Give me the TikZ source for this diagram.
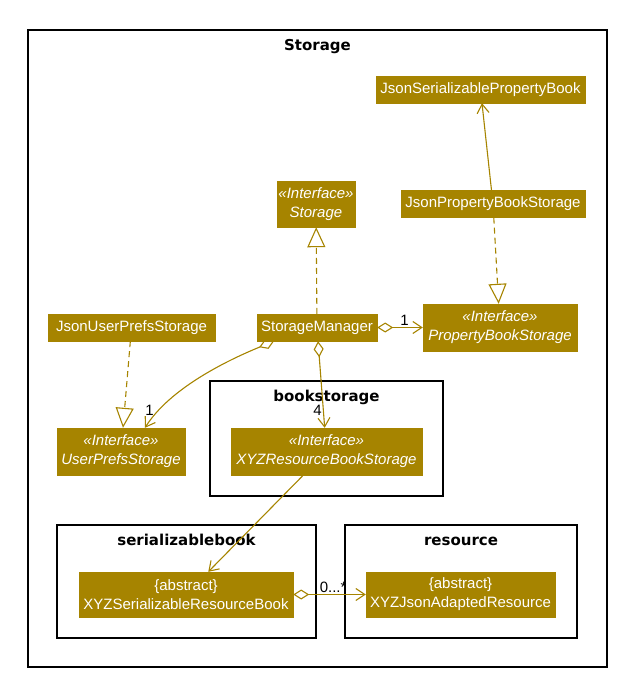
\documentclass[tikz,border=0pt]{standalone}
\usepackage{fontspec}
\setmainfont{Liberation Sans}
\newfontfamily\pkgfont{DejaVu Sans}
\usetikzlibrary{arrows.meta,positioning}
\definecolor{umlgold}{HTML}{A68400}
\tikzset{>={Straight Barb[length=9pt,width=12pt]}}

\begin{document}
\begin{tikzpicture}[x=1pt,y=-1pt,
    cls/.style={draw=umlgold,fill=umlgold,text=white,align=center,
      font=\fontsize{15}{19}\selectfont,inner sep=0pt,minimum height=27pt},
    iface/.style={cls,font=\fontsize{15}{19}\selectfont\itshape,minimum height=47pt},
    absclass/.style={cls,minimum height=45pt},
    pkg/.style={draw=black,line width=1.5pt,inner sep=0pt},
    pkgname/.style={font=\pkgfont\fontsize{15}{19}\selectfont\bfseries,anchor=base,inner sep=0pt,yshift=-21pt},
    assoc/.style={draw=umlgold,line width=1.1pt},
    realize/.style={assoc,dash pattern=on 6pt off 4pt,-{Triangle[open,length=20pt,width=18pt]}},
    agg/.style={assoc,{Diamond[open,length=16pt,width=10pt]}->},
    mult/.style={font=\fontsize{15}{15}\selectfont,inner sep=1pt}]
    \useasboundingbox (0,0) rectangle (620,681);

    \node[pkg,minimum width=579pt,minimum height=637pt] (storage) at (317.5,348.5) {};
    \node[pkgname] at (storage.north) {Storage};
    \node[pkg,minimum width=233pt,minimum height=115pt] (bookstorage) at (326.5,438.5) {};
    \node[pkgname] at (bookstorage.north) {bookstorage};
    \node[pkg,minimum width=259pt,minimum height=113pt] (serializablebook) at (186.5,581.5) {};
    \node[pkgname] at (serializablebook.north) {serializablebook};
    \node[pkg,minimum width=232pt,minimum height=113pt] (resource) at (461,581.5) {};
    \node[pkgname] at (resource.north) {resource};

    \node[cls,minimum width=209pt] (jspb) at (480.5,89.5) {JsonSerializablePropertyBook};
    \node[cls,minimum width=184pt] (jpbs) at (493,204) {JsonPropertyBookStorage};
    \node[iface,minimum width=78pt,minimum height=46pt] (storageif) at (316,204) {«Interface»\\Storage};
    \node[cls,minimum width=120pt] (sm) at (317,327.5) {StorageManager};
    \node[iface,minimum width=154pt] (pbs) at (500,327.5) {«Interface»\\PropertyBookStorage};
    \node[cls,minimum width=167pt] (jups) at (131.5,327.5) {JsonUserPrefsStorage};
    \node[iface,minimum width=128pt] (ups) at (121,451.5) {«Interface»\\UserPrefsStorage};
    \node[iface,minimum width=191pt] (xrbs) at (326.5,451.5) {«Interface»\\XYZResourceBookStorage};
    \node[absclass,minimum width=214pt] (xsrb) at (186,594.5) {\{abstract\}\\XYZSerializableResourceBook};
    \node[absclass,minimum width=189pt] (xjar) at (460.5,594.5) {\{abstract\}\\XYZJsonAdaptedResource};

    \path[assoc,->] (jpbs) edge (jspb);
    \path[realize] (sm) edge (storageif);
    \path[realize] (jpbs) edge (pbs);
    \path[realize] (jups) edge (ups);
    \path[agg] (sm) edge node[mult,above,pos=0.6]{1} (pbs);
    \draw[agg] ([xshift=-43pt]sm.south) .. controls (228,360) and (170,388) .. ([xshift=24pt]ups.north)
      node[mult,pos=0.85,left=3pt]{1};
    \path[agg] (sm) edge node[mult,left,pos=0.8]{4} (xrbs);
    \path[assoc,->] (xrbs) edge (xsrb);
    \path[agg] (xsrb) edge node[mult,above,pos=0.55]{0...*} (xjar);
\end{tikzpicture}
\end{document}
